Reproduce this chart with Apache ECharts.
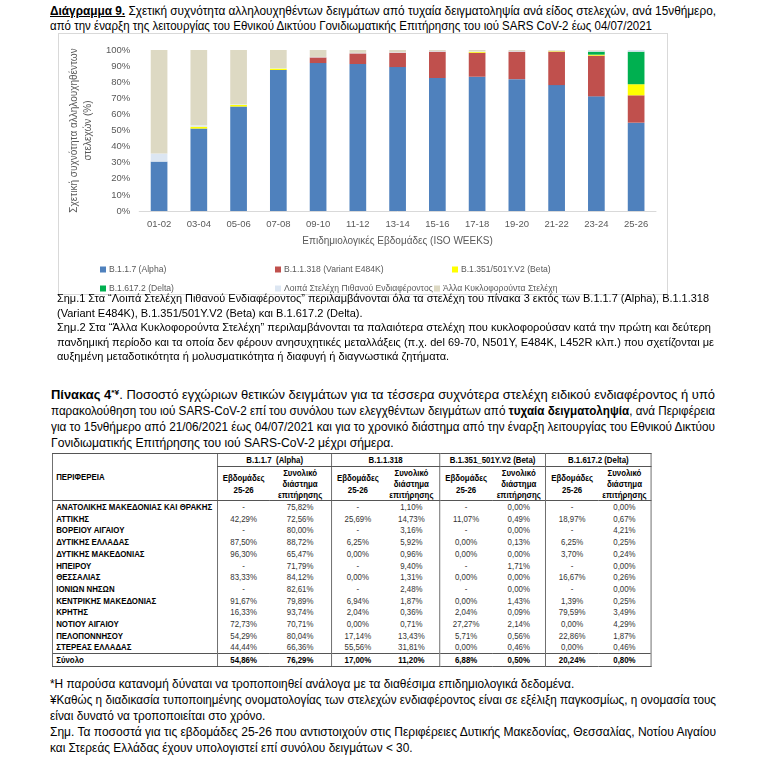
<!DOCTYPE html>
<html><head><meta charset="utf-8">
<script src="https://cdn.jsdelivr.net/npm/echarts@6/dist/echarts.min.js"></script>
<style>
body{margin:0;background:#fff;width:767px;height:764px;overflow:hidden;position:relative;font-family:'Liberation Sans',Arial,sans-serif;color:#000}
.abs{position:absolute}
.tl{position:absolute;white-space:nowrap;transform-origin:0 50%}
.tl sup{font-size:0.65em;line-height:0;vertical-align:0.45em}
#box{left:58px;top:33px;width:608px;height:260px;border:1px solid #d9d9d9}
#chart{width:608px;height:260px}
#tblwrap{left:52px;top:453px;transform-origin:0 0}
#tbl{border-collapse:collapse;table-layout:fixed;font-size:9.4px}
#tbl td{padding:0;border:none;text-align:center;line-height:11.7px;height:11.7px;color:#333;white-space:nowrap;overflow:hidden}
#tbl td.r{text-align:left;font-weight:bold;color:#000;padding-left:4px}
#tbl tr.h td{font-weight:bold;color:#000}
</style></head>
<body>
<div id="box" class="abs"><div id="chart"></div></div>
<div id="tblwrap" class="abs"><table id="tbl"></table></div>
<div id="texts"></div>
<script>
// ---- chart data ----
var weeks = ['01-02','03-04','05-06','07-08','09-10','11-12','13-14','15-16','17-18','19-20','21-22','23-24','25-26'];
var alpha  = [30.7, 51.2, 64.9, 87.6, 91.9, 91.3, 89.4, 82.6, 83.4, 81.9, 78.2, 71.2, 54.86];
var e484k  = [0, 0, 0, 0, 3.5, 6.6, 8.9, 16.4, 14.9, 17.1, 20.8, 25.3, 17.00];
var beta   = [0, 1.2, 1.0, 0.9, 0, 0, 0, 0, 0.6, 0, 0.3, 0.6, 6.88];
var delta  = [0, 0, 0, 0, 0, 0, 0, 0, 0, 0, 0, 1.9, 20.24];
var otherVoi = [5.0, 0.8, 0.4, 0.3, 0.3, 0.3, 0.3, 0.4, 0.3, 0.4, 0.3, 0.6, 1.02];
var otherCirc = [64.3, 46.8, 33.7, 11.2, 4.3, 1.8, 1.4, 0.6, 0.8, 0.6, 0.4, 0.4, 0];

// ---- table data ----
var regions = ['ΑΝΑΤΟΛΙΚΗΣ ΜΑΚΕΔΟΝΙΑΣ ΚΑΙ ΘΡΑΚΗΣ','ΑΤΤΙΚΗΣ','ΒΟΡΕΙΟΥ ΑΙΓΑΙΟΥ','ΔΥΤΙΚΗΣ ΕΛΛΑΔΑΣ','ΔΥΤΙΚΗΣ ΜΑΚΕΔΟΝΙΑΣ','ΗΠΕΙΡΟΥ','ΘΕΣΣΑΛΙΑΣ','ΙΟΝΙΩΝ ΝΗΣΩΝ','ΚΕΝΤΡΙΚΗΣ ΜΑΚΕΔΟΝΙΑΣ','ΚΡΗΤΗΣ','ΝΟΤΙΟΥ ΑΙΓΑΙΟΥ','ΠΕΛΟΠΟΝΝΗΣΟΥ','ΣΤΕΡΕΑΣ ΕΛΛΑΔΑΣ','Σύνολο'];
var alphaWk  = [null,42.29,null,87.50,96.30,null,83.33,null,91.67,16.33,72.73,54.29,44.44,54.86];
var alphaTot = [75.82,72.56,80.00,88.72,65.47,71.79,84.12,82.61,79.89,93.74,70.71,80.04,66.36,76.29];
var e484Wk   = [null,25.69,null,6.25,0.00,null,0.00,null,6.94,2.04,0.00,17.14,55.56,17.00];
var e484Tot  = [1.10,14.73,3.16,5.92,0.96,9.40,1.31,2.48,1.87,0.36,0.71,13.43,31.81,11.20];
var betaWk   = [null,11.07,null,0.00,0.00,null,0.00,null,0.00,2.04,27.27,5.71,0.00,6.88];
var betaTot  = [0.00,0.49,0.00,0.13,0.00,1.71,0.00,0.00,1.43,0.09,2.14,0.56,0.46,0.50];
var deltaWk  = [null,18.97,null,6.25,3.70,null,16.67,null,1.39,79.59,0.00,22.86,0.00,20.24];
var deltaTot = [0.00,0.67,4.21,0.25,0.24,0.00,0.26,0.00,0.25,3.49,4.29,1.87,0.46,0.80];
var groups = ['B.1.1.7 &nbsp;(Alpha)','B.1.1.318','B.1.351_501Y.V2 (Beta)','B.1.617.2 (Delta)'];

// ---- text blocks: [html, centerY, targetWidth or null] ----
var titleLines = [
 ['<b><u>Διάγραμμα 9.</u></b> Σχετική συχνότητα αλληλουχηθέντων δειγμάτων από τυχαία δειγματοληψία ανά είδος στελεχών, ανά 15νθήμερο,', 11, 666],
 ['από την έναρξη της λειτουργίας του Εθνικού Δικτύου Γονιδιωματικής Επιτήρησης του ιού SARS CoV-2 έως 04/07/2021', 26, 602]
];
var noteLines = [
 ['Σημ.1 Στα “Λοιπά Στελέχη Πιθανού Ενδιαφέροντος” περιλαμβάνονται όλα τα στελέχη του πίνακα 3 εκτός των B.1.1.7 (Alpha), B.1.1.318', 298, 652],
 ['(Variant E484K), B.1.351/501Y.V2 (Beta) και B.1.617.2 (Delta).', 313, null],
 ['Σημ.2 Στα “Άλλα Κυκλοφορούντα Στελέχη” περιλαμβάνονται τα παλαιότερα στελέχη που κυκλοφορούσαν κατά την πρώτη και δεύτερη', 327, 654],
 ['πανδημική περίοδο και τα οποία δεν φέρουν ανησυχητικές μεταλλάξεις (π.χ. del 69-70, N501Y, E484K, L452R κλπ.) που σχετίζονται με', 342, 657],
 ['αυξημένη μεταδοτικότητα ή μολυσματικότητα ή διαφυγή ή διαγνωστικά ζητήματα.', 356, null]
];
var paraLines = [
 ['<b>Πίνακας 4<sup>*¥</sup></b>. Ποσοστό εγχώριων θετικών δειγμάτων για τα τέσσερα συχνότερα στελέχη ειδικού ενδιαφέροντος ή υπό', 395, 664],
 ['παρακολούθηση του ιού SARS-CoV-2 επί του συνόλου των ελεγχθέντων δειγμάτων από <b>τυχαία δειγματοληψία</b>, ανά Περιφέρεια', 411, 664],
 ['για το 15νθήμερο από 21/06/2021 έως 04/07/2021 και για το χρονικό διάστημα από την έναρξη λειτουργίας του Εθνικού Δικτύου', 427, 664],
 ['Γονιδιωματικής Επιτήρησης του ιού SARS-CoV-2 μέχρι σήμερα.', 443, null]
];
var footLines = [
 ['*Η παρούσα κατανομή δύναται να τροποποιηθεί ανάλογα με τα διαθέσιμα επιδημιολογικά δεδομένα.', 684, null],
 ['¥Καθώς η διαδικασία τυποποιημένης ονοματολογίας των στελεχών ενδιαφέροντος είναι σε εξέλιξη παγκοσμίως, η ονομασία τους', 700, 666],
 ['είναι δυνατό να τροποποιείται στο χρόνο.', 716, null],
 ['Σημ. Τα ποσοστά για τις εβδομάδες 25-26 που αντιστοιχούν στις Περιφέρειες Δυτικής Μακεδονίας, Θεσσαλίας, Νοτίου Αιγαίου', 732, 666],
 ['και Στερεάς Ελλάδας έχουν υπολογιστεί επί συνόλου δειγμάτων &lt; 30.', 748, null]
];

function placeBlock(lines, x, size, lh){
  var host=document.getElementById('texts'), els=[], ks=[];
  lines.forEach(function(l){
    var d=document.createElement('div'); d.className='tl'; d.innerHTML=l[0];
    d.style.left=x+'px'; d.style.top=(l[1]-lh/2)+'px'; d.style.fontSize=size+'px'; d.style.lineHeight=lh+'px';
    host.appendChild(d); els.push(d);
  });
  lines.forEach(function(l,i){ if(l[2]){ var w=els[i].getBoundingClientRect().width; ks.push(l[2]/w); els[i].dataset.k=l[2]/w; } });
  var avg=ks.reduce(function(a,b){return a+b;},0)/ks.length;
  els.forEach(function(e){ var k=e.dataset.k?parseFloat(e.dataset.k):avg; e.style.transform='scaleX('+k+')'; });
}
placeBlock(titleLines, 50, 12, 15);
placeBlock(noteLines, 57, 10.6, 14);
placeBlock(paraLines, 51, 12.4, 16);
placeBlock(footLines, 50, 12, 16);

function fmt(v){ return v==null ? '-' : v.toFixed(2).replace('.',',')+'%'; }
(function buildTable(){
  var m=document.createElement('span'); m.style.cssText='position:absolute;visibility:hidden;white-space:nowrap;font-size:9.4px;font-weight:bold';
  m.textContent=regions[0]; document.body.appendChild(m);
  var k=156/m.getBoundingClientRect().width; document.body.removeChild(m);
  var target=[168,56,72,57,62,58,58,58,57];
  var widths=target.map(function(w){return w/k;});
  var h='<colgroup>'+widths.map(function(w){return '<col style="width:'+w.toFixed(2)+'px">';}).join('')+'</colgroup>';
  var B='1px solid #555';
  h+='<tr class="h"><td rowspan="2" class="r" style="border-top:'+B+';border-left:'+B+';border-bottom:'+B+';vertical-align:middle">ΠΕΡΙΦΕΡΕΙΑ</td>';
  groups.forEach(function(g,i){h+='<td colspan="2" style="height:12px;border-top:'+B+';border-left:'+B+';border-bottom:'+B+';'+(i==3?'border-right:'+B:'')+'">'+g+'</td>';});
  h+='</tr><tr class="h">';
  for(var i=0;i<4;i++){
    h+='<td style="height:33px;border-left:'+B+';border-bottom:'+B+';line-height:12px">Εβδομάδες<br>25-26</td>';
    h+='<td style="border-bottom:'+B+';line-height:11px;'+(i==3?'border-right:'+B:'')+'">Συνολικό<br>διάστημα<br>επιτήρησης</td>';
  }
  h+='</tr>';
  var cols=[alphaWk,alphaTot,e484Wk,e484Tot,betaWk,betaTot,deltaWk,deltaTot];
  regions.forEach(function(r,ri){
    var last = ri==regions.length-1;
    var st = last ? 'border-top:'+B+';border-bottom:'+B+';font-weight:bold;color:#000;height:11.5px;' : '';
    h+='<tr><td class="r" style="border-left:'+B+';'+st+'">'+r+'</td>';
    cols.forEach(function(c,ci){
      var s=st+(ci%2==0?'border-left:'+B+';':'')+(ci==7?'border-right:'+B+';':'');
      h+='<td style="'+s+'">'+fmt(c[ri])+'</td>';
    });
    h+='</tr>';
  });
  document.getElementById('tbl').innerHTML=h;
  document.getElementById('tblwrap').style.transform='scaleX('+k+')';
})();

var FF = "'Liberation Sans',Arial,sans-serif";
var chart = echarts.init(document.getElementById('chart'), null, {renderer:'canvas'});
var names = ['B.1.1.7 (Alpha)','B.1.1.318 (Variant E484K)','B.1.351/501Y.V2 (Beta)','B.1.617.2 (Delta)','Λοιπά Στελέχη Πιθανού Ενδιαφέροντος','Άλλα Κυκλοφορούντα Στελέχη'];
var colors = ['#4f81bd','#c0504d','#ffff00','#00b050','#dce6f2','#ddd9c3'];
var vals = [alpha,e484k,beta,delta,otherVoi,otherCirc];
var legendPos = [[41,231],[216,231],[393,231],[41,250],[216,250],[375,250]];
var legends = names.map(function(n,i){
  return {data:[n], left:legendPos[i][0], top:legendPos[i][1], icon:'rect', itemWidth:6, itemHeight:6, itemGap:3, padding:0,
    textStyle:{fontSize:8.6, color:'#595959', fontFamily:FF, padding:[0,0,0,-2]}, selectedMode:false};
});
chart.setOption({
  animation:false,
  textStyle:{fontFamily:FF},
  legend: legends,
  grid:{left:70, top:16, width:527, height:161},
  xAxis:{type:'category', data:weeks, axisTick:{show:false},
    axisLine:{lineStyle:{color:'#d9d9d9'}},
    axisLabel:{fontSize:9.5, color:'#595959', margin:8},
    name:'Επιδημιολογικές Εβδομάδες (ISO WEEKS)', nameLocation:'middle', nameGap:25,
    nameTextStyle:{fontSize:10, color:'#595959'}},
  yAxis:{type:'value', min:0, max:100, interval:10, axisLine:{show:false}, axisTick:{show:false}, splitLine:{show:false},
    axisLabel:{fontSize:9.5, color:'#595959', margin:9, formatter:'{value}%'},
    name:'Σχετική συχνότητα αλληλουχηθέντων\nστελεχών (%)', nameLocation:'middle', nameGap:28, nameRotate:90,
    nameTextStyle:{fontSize:10, color:'#595959', lineHeight:14}},
  series: names.map(function(n,i){
    return {name:n, type:'bar', stack:'s', data:vals[i], barWidth:'42%', itemStyle:{color:colors[i]}};
  })
});
</script>
</body></html>
